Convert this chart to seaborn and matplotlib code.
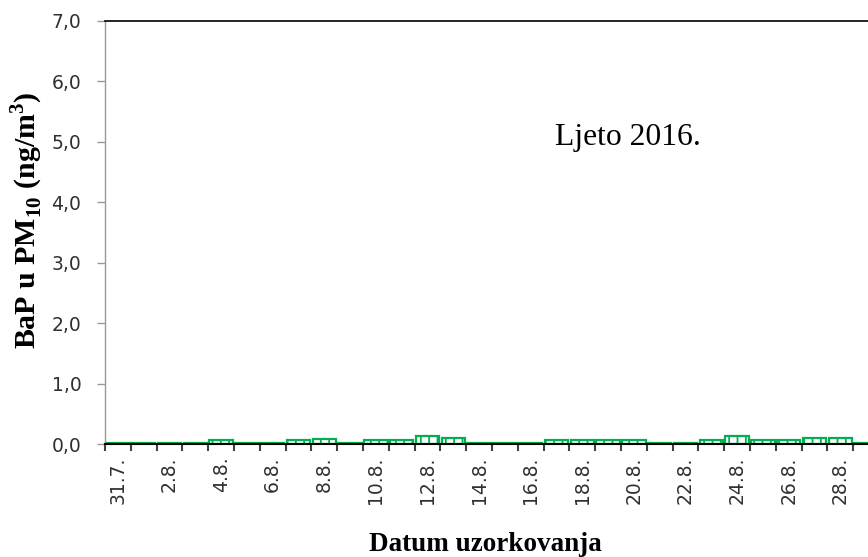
import matplotlib
matplotlib.use("Agg")
import matplotlib.pyplot as plt
import seaborn as sns
import pandas as pd
from matplotlib.ticker import FuncFormatter, FixedLocator

dates = ["31.7.", "1.8.", "2.8.", "3.8.", "4.8.", "5.8.", "6.8.", "7.8.", "8.8.", "9.8.",
         "10.8.", "11.8.", "12.8.", "13.8.", "14.8.", "15.8.", "16.8.", "17.8.", "18.8.", "19.8.",
         "20.8.", "21.8.", "22.8.", "23.8.", "24.8.", "25.8.", "26.8.", "27.8.", "28.8.", "29.8."]
bap = [0.01, 0.01, 0.01, 0.01, 0.06, 0.01, 0.01, 0.06, 0.09, 0.01,
       0.06, 0.06, 0.14, 0.10, 0.01, 0.01, 0.01, 0.06, 0.06, 0.06,
       0.06, 0.01, 0.01, 0.06, 0.14, 0.06, 0.06, 0.10, 0.10, 0.01]
shown_labels = dates[::2]
y_ticks = [0, 1, 2, 3, 4, 5, 6, 7]

sns.set_theme(style="white")
plt.rcParams["font.family"] = ["DejaVu Sans"]
plt.rcParams["mathtext.fontset"] = "custom"
plt.rcParams["mathtext.rm"] = "Liberation Serif"
plt.rcParams["mathtext.bf"] = "Liberation Serif:bold"
plt.rcParams["hatch.linewidth"] = 1.3

df = pd.DataFrame({"datum": dates, "bap": bap})

fig = plt.figure(figsize=(8.68, 5.57), dpi=100)
ax = fig.add_axes([105 / 868, 1 - 444 / 557, 774 / 868, (444 - 21) / 557])

green = "#00B050"
sns.barplot(data=df, x="datum", y="bap", order=dates, ax=ax, color="white",
            edgecolor=green, linewidth=1.6, width=0.9, hatch="||")
for p in ax.patches:
    p.set_facecolor("white")
    p.set_edgecolor(green)

ax.set_xlim(-0.5, len(dates) - 0.5)
ax.set_ylim(0, 7)
ax.yaxis.set_major_locator(FixedLocator(y_ticks))
ax.yaxis.set_major_formatter(FuncFormatter(lambda v, p: f"{v:.1f}".replace(".", ",")))

ax.set_xticks(range(0, len(dates), 2))
ax.set_xticklabels(shown_labels, rotation=90, fontsize=13.5, color="#303030")
ax.set_xticks([i - 0.5 for i in range(len(dates) + 1)], minor=True)
ax.tick_params(axis="x", which="major", length=0, pad=9)
ax.tick_params(axis="x", which="minor", length=5, width=1.5, color="#404040", direction="out", bottom=True)
ax.tick_params(axis="y", which="major", length=6, width=1, color="#999999", direction="out",
               left=True, labelsize=13.5, labelcolor="#303030", pad=11)

for s in ["top", "right", "bottom", "left"]:
    ax.spines[s].set_visible(True)
ax.spines["top"].set_color("black")
ax.spines["top"].set_linewidth(1.2)
ax.spines["right"].set_color("black")
ax.spines["bottom"].set_color("black")
ax.spines["bottom"].set_linewidth(1.5)
ax.spines["left"].set_color("#999999")
ax.spines["left"].set_linewidth(1.0)
ax.grid(False)

ax.set_xlabel("Datum uzorkovanja", fontsize=19.5, fontweight="bold",
              family="Liberation Serif", color="black")
ax.xaxis.set_label_coords(0.492, -0.208)
ax.set_ylabel(r"BaP u PM$_{\mathbf{10}}$ (ng/m$^{\mathbf{3}}$)", fontsize=21.5,
              fontweight="bold", family="Liberation Serif", color="black")
ax.yaxis.set_label_coords(-0.0775, 0.53)

ax.text((555 - 105) / 774, (444 - 137) / 423, "Ljeto 2016.", transform=ax.transAxes, fontsize=22.8,
        family="Liberation Serif", color="black", ha="left", va="center")

fig.savefig("out.png", dpi=100)
